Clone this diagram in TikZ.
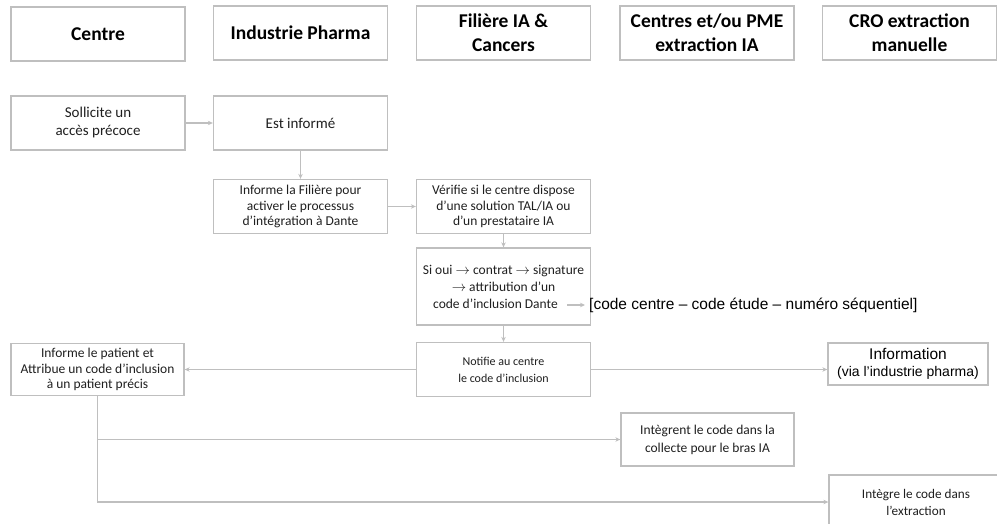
\documentclass[tikz,border=0pt]{standalone}
\usepackage{fontspec}
\setmainfont{Carlito}
\newfontfamily\arialfont{Liberation Sans}
\usepackage{tikz}
\usetikzlibrary{arrows.meta}

\definecolor{boxgray}{HTML}{BFBFBF}
\definecolor{txt}{HTML}{1F1F1F}

\begin{document}
\begin{tikzpicture}[x=1pt, y=-1pt,
    head/.style={draw=boxgray, line width=1.3pt, rectangle, minimum width=174pt, minimum height=54pt, inner sep=0pt, align=center, text=black, font=\fontsize{19.5}{24}\selectfont\bfseries},
    box/.style={draw=boxgray, line width=1.3pt, rectangle, minimum width=174pt, minimum height=54pt, inner sep=0pt, align=center, text=txt, font=\fontsize{13.5}{15.5}\selectfont},
    link/.style={draw=boxgray, line width=1.2pt, -{Stealth[length=5pt, width=4.5pt]}}]
    \useasboundingbox (0, 0) rectangle (997, 524);

    % en-tetes des colonnes
    \node[head] at (98, 34) (H1) {Centre};
    \node[head] at (300.5, 33) (H2) {Industrie Pharma};
    \node[head] at (503.5, 33) (H3) {Filière IA \&\\Cancers};
    \node[head] at (707, 33) (H4) {Centres et/ou PME\\extraction IA};
    \node[head] at (909.5, 33) (H5) {CRO extraction\\manuelle};

    \node[box, font=\fontsize{15}{18}\selectfont] at (98, 123) (N1) {Sollicite un\\accès précoce};
    \node[box, font=\fontsize{15}{18}\selectfont] at (300.5, 123) (N2) {Est informé};
    \node[box] at (300.5, 206.5) (N3) {Informe la Filière pour\\activer le processus\\d’intégration à Dante};
    \node[box] at (503.5, 206.5) (N4) {Vérifie si le centre dispose\\d’une solution TAL/IA ou\\d’un prestataire IA};
    \node[box, minimum height=77pt, font=\fontsize{13.5}{17}\selectfont] at (503.5, 286.5) (N5) {Si oui $\rightarrow$ contrat $\rightarrow$ signature\\$\rightarrow$ attribution d’un\\code d’inclusion Dante\rule{16pt}{0pt}};
    \coordinate (dante) at (567, 305);
    \node[anchor=west, inner xsep=4pt, inner ysep=0pt, text=black, font=\arialfont\fontsize{15.5}{18}\selectfont] at (585, 305) (code) {[code centre – code étude – numéro séquentiel]};

    \node[box, font=\fontsize{12}{17}\selectfont] at (503.5, 369.5) (N6) {Notifie au centre\\le code d’inclusion};
    \node[box, minimum width=173pt, minimum height=52pt] at (97.5, 369.5) (N7) {Informe le patient et\\Attribue un code d’inclusion\\à un patient précis};
    \node[box, minimum width=160pt, minimum height=42pt, text=black, font=\arialfont\fontsize{14}{17}\selectfont] at (908, 364) (N8) {{\fontsize{15.5}{17}\selectfont Information}\\(via l’industrie pharma)};
    \node[box, minimum width=173pt, minimum height=53pt, font=\fontsize{13.5}{18}\selectfont] at (707.5, 439.5) (N9) {Intègrent le code dans la\\collecte pour le bras IA};
    \node[box, minimum width=174pt, font=\fontsize{13.2}{17}\selectfont] at (916, 502) (N10) {Intègre le code dans\\l’extraction};

    \draw[link] (N1) -- (N2);
    \draw[link] (N2) -- (N3);
    \draw[link] (N3) -- (N4);
    \draw[link] (N4) -- (N5);
    \draw[link] (dante) -- (code.west);
    \draw[link] (N5) -- (N6);
    \draw[link] (N6) -- (N7);
    \draw[link] (N6) -- (N6 -| N8.west);
    \draw[link] (N7) |- (N9);
    \draw[link] (N7) |- (N10);
\end{tikzpicture}
\end{document}
